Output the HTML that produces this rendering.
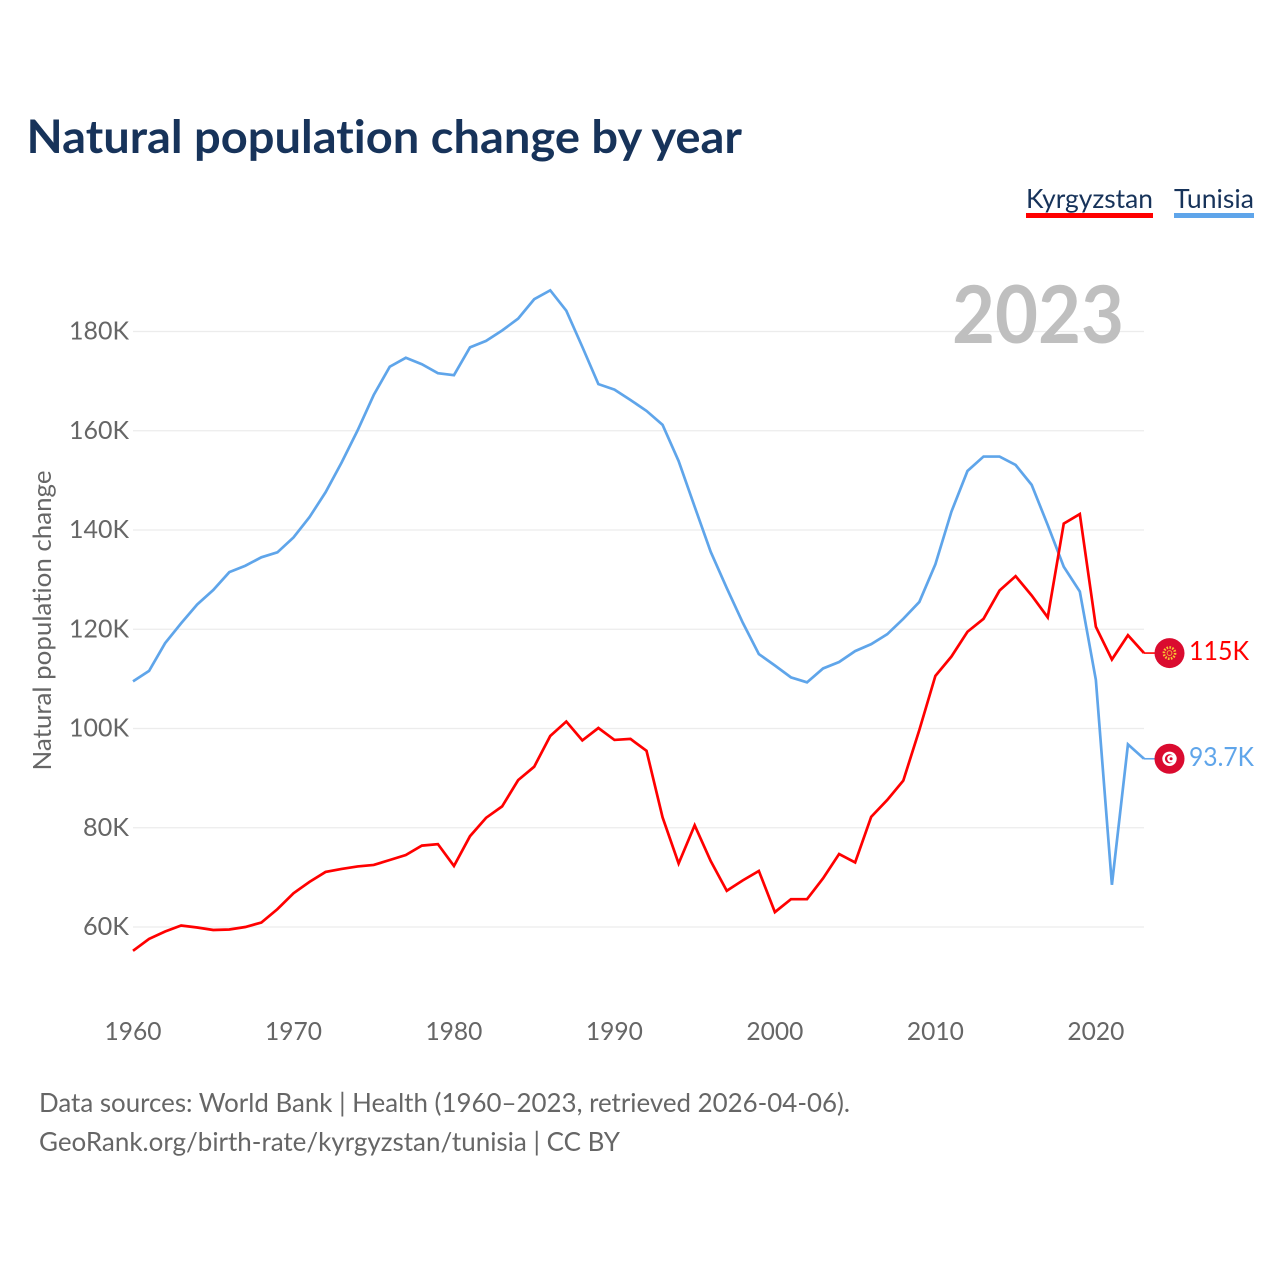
<!DOCTYPE html>
<html lang="en">
<head>
<meta charset="utf-8">
<title>Natural population change by year</title>
<style>
html,body{margin:0;padding:0;background:#fff;width:1280px;height:1280px;overflow:hidden}
svg{display:block}
text{font-family:"Lato","Carlito","Liberation Sans",sans-serif;font-variant-ligatures:none}
</style>
</head>
<body>
<svg id="chart" xmlns="http://www.w3.org/2000/svg" width="1280" height="1280" viewBox="0 0 1280 1280">
  <rect x="0" y="0" width="1280" height="1280" fill="#fff"/>
  <text x="26.5" y="153" font-size="46" font-weight="700" fill="#17335a" textLength="715.5" lengthAdjust="spacingAndGlyphs">Natural population change by year</text>

  <g>
    <text x="1026" y="208" font-size="26" fill="#17335a" textLength="127" lengthAdjust="spacingAndGlyphs">Kyrgyzstan</text>
    <rect x="1026" y="213" width="127" height="5" fill="#ff0000"/>
  </g>
  <g>
    <text x="1174" y="208" font-size="26" fill="#17335a" textLength="80" lengthAdjust="spacingAndGlyphs">Tunisia</text>
    <rect x="1174" y="213" width="80" height="5" fill="#5fa5ea"/>
  </g>

  <g id="grid"></g>
  <g id="yticks"></g>
  <g id="xticks"></g>

  <text transform="translate(51,770.5) rotate(-90)" x="0" y="0" font-size="25.5" fill="#666666" textLength="300" lengthAdjust="spacingAndGlyphs">Natural population change</text>
  <text x="952" y="343" font-size="80" font-weight="700" fill="#bfbfbf" textLength="172" lengthAdjust="spacingAndGlyphs">2023</text>

  <path id="line-tunisia" fill="none" stroke="#5fa5ea" stroke-width="2.7" stroke-linejoin="miter"/>
  <path id="line-kyrgyzstan" fill="none" stroke="#ff0000" stroke-width="2.7" stroke-linejoin="miter"/>
  <path id="connector-tunisia" fill="none" stroke="#5fa5ea" stroke-width="1.6"/>
  <path id="connector-kyrgyzstan" fill="none" stroke="#ff0000" stroke-width="1.6"/>

  <g id="flag-kyrgyzstan">
    <circle cx="0" cy="0" r="15" fill="#da0b2f"/>
    <circle cx="0" cy="0" r="5.6" fill="none" stroke="#f7c531" stroke-width="2.6" stroke-dasharray="1.6 1.3"/>
    <circle cx="0" cy="0" r="2.4" fill="none" stroke="#f2a93b" stroke-width="1"/>
  </g>
  <g id="flag-tunisia">
    <circle cx="0" cy="0" r="15" fill="#da0b2f"/>
    <circle cx="0" cy="0" r="7.2" fill="#fff"/>
    <circle cx="0" cy="0" r="4.6" fill="#da0b2f"/>
    <circle cx="1.4" cy="0" r="3.7" fill="#fff"/>
    <circle cx="1.6" cy="0" r="1.5" fill="#da0b2f"/>
  </g>

  <text id="value-kyrgyzstan" x="1189" y="660" font-size="26" fill="#ff0000" textLength="60" lengthAdjust="spacingAndGlyphs"></text>
  <text id="value-tunisia" x="1189" y="766" font-size="26" fill="#5fa5ea" textLength="65" lengthAdjust="spacingAndGlyphs"></text>

  <text x="39" y="1112" font-size="26" fill="#666666" textLength="811" lengthAdjust="spacingAndGlyphs">Data sources: World Bank | Health (1960–2023, retrieved 2026-04-06).</text>
  <text x="39" y="1151" font-size="26" fill="#666666" textLength="581" lengthAdjust="spacingAndGlyphs">GeoRank.org/birth-rate/kyrgyzstan/tunisia | CC BY</text>
</svg>
<script>
var startYear = 1960;
var endYear = 2023;
var xTickYears = [1960, 1970, 1980, 1990, 2000, 2010, 2020];
var yTickValues = [60, 80, 100, 120, 140, 160, 180];
var yTickLabels = ["60K", "80K", "100K", "120K", "140K", "160K", "180K"];
var tunisiaValues = [
  109.5, 111.6, 117.2, 121.2, 125.0, 127.9, 131.5, 132.8, 134.5, 135.5,
  138.5, 142.6, 147.6, 153.6, 160.1, 167.2, 172.9, 174.7, 173.4, 171.6,
  171.2, 176.8, 178.1, 180.2, 182.6, 186.5, 188.3, 184.2, 176.9, 169.4,
  168.3, 166.2, 164.0, 161.2, 153.9, 144.7, 135.6, 128.3, 121.3, 115.0,
  112.7, 110.3, 109.3, 112.1, 113.4, 115.6, 117.0, 119.0, 122.1, 125.5,
  133.1, 143.7, 151.9, 154.8, 154.8, 153.1, 149.1, 141.0, 132.6, 127.6,
  109.8, 68.5, 96.8, 93.9
];
var kyrgyzstanValues = [
  55.2, 57.6, 59.1, 60.3, 59.9, 59.4, 59.5, 60.0, 60.9, 63.6,
  66.8, 69.1, 71.1, 71.7, 72.2, 72.5, 73.5, 74.5, 76.4, 76.7,
  72.3, 78.3, 82.0, 84.3, 89.6, 92.3, 98.5, 101.4, 97.6, 100.1,
  97.7, 97.9, 95.5, 82.1, 72.8, 80.5, 73.3, 67.3, 69.4, 71.3,
  63.0, 65.6, 65.6, 69.8, 74.7, 73.0, 82.2, 85.6, 89.5, 99.7,
  110.6, 114.5, 119.5, 122.1, 127.8, 130.7, 126.8, 122.4, 141.3, 143.2,
  120.5, 113.9, 118.8, 115.2
];
var tunisiaEndLabel = "93.7K";
var kyrgyzstanEndLabel = "115K";

var SVG_NS = "http://www.w3.org/2000/svg";
var plotLeft = 133, plotRight = 1144;
var y60 = 927, pxPerUnit = 4.9625;

function xScale(year) {
  return plotLeft + (year - startYear) * (plotRight - plotLeft) / (endYear - startYear);
}
function yScale(value) {
  return y60 - (value - 60) * pxPerUnit;
}
function linePath(values) {
  var d = "";
  for (var i = 0; i < values.length; i++) {
    d += (i ? "L" : "M") + xScale(startYear + i).toFixed(2) + " " + yScale(values[i]).toFixed(2);
  }
  return d;
}

var gridGroup = document.getElementById("grid");
var yGroup = document.getElementById("yticks");
var xGroup = document.getElementById("xticks");

yTickValues.forEach(function (value, i) {
  var py = yScale(value);
  var line = document.createElementNS(SVG_NS, "line");
  
  
  line.setAttribute("x1", plotLeft);
  line.setAttribute("x2", plotRight);
  line.setAttribute("y1", py);
  line.setAttribute("y2", py);
  line.setAttribute("stroke", "#ececec");
  line.setAttribute("stroke-width", "1.2");
  gridGroup.appendChild(line);

  var label = document.createElementNS(SVG_NS, "text");
  
  
  label.setAttribute("x", 129);
  label.setAttribute("y", py + 8);
  label.setAttribute("text-anchor", "end");
  label.setAttribute("font-size", "25.5");
  label.setAttribute("fill", "#666666");
  label.setAttribute("textLength", yTickLabels[i].length === 4 ? 60 : 46);
  label.setAttribute("lengthAdjust", "spacingAndGlyphs");
  label.textContent = yTickLabels[i];
  yGroup.appendChild(label);
});

xTickYears.forEach(function (year) {
  var label = document.createElementNS(SVG_NS, "text");
  
  
  label.setAttribute("x", xScale(year));
  label.setAttribute("y", 1040);
  label.setAttribute("text-anchor", "middle");
  label.setAttribute("font-size", "25.5");
  label.setAttribute("fill", "#666666");
  label.setAttribute("textLength", 57);
  label.setAttribute("lengthAdjust", "spacingAndGlyphs");
  label.textContent = String(year);
  xGroup.appendChild(label);
});

document.getElementById("line-tunisia").setAttribute("d", linePath(tunisiaValues));
document.getElementById("line-kyrgyzstan").setAttribute("d", linePath(kyrgyzstanValues));

var tunisiaEndY = yScale(tunisiaValues[tunisiaValues.length - 1]);
var kyrgyzstanEndY = yScale(kyrgyzstanValues[kyrgyzstanValues.length - 1]);
document.getElementById("connector-tunisia").setAttribute("d", "M" + plotRight + " " + tunisiaEndY + "H1155");
document.getElementById("connector-kyrgyzstan").setAttribute("d", "M" + plotRight + " " + kyrgyzstanEndY + "H1155");
document.getElementById("flag-tunisia").setAttribute("transform", "translate(1169.5," + tunisiaEndY + ")");
document.getElementById("flag-kyrgyzstan").setAttribute("transform", "translate(1169.5," + kyrgyzstanEndY + ")");
document.getElementById("value-tunisia").textContent = tunisiaEndLabel;
document.getElementById("value-kyrgyzstan").textContent = kyrgyzstanEndLabel;
document.getElementById("value-tunisia").setAttribute("y", tunisiaEndY + 7);
document.getElementById("value-kyrgyzstan").setAttribute("y", kyrgyzstanEndY + 7);
</script>
</body>
</html>
